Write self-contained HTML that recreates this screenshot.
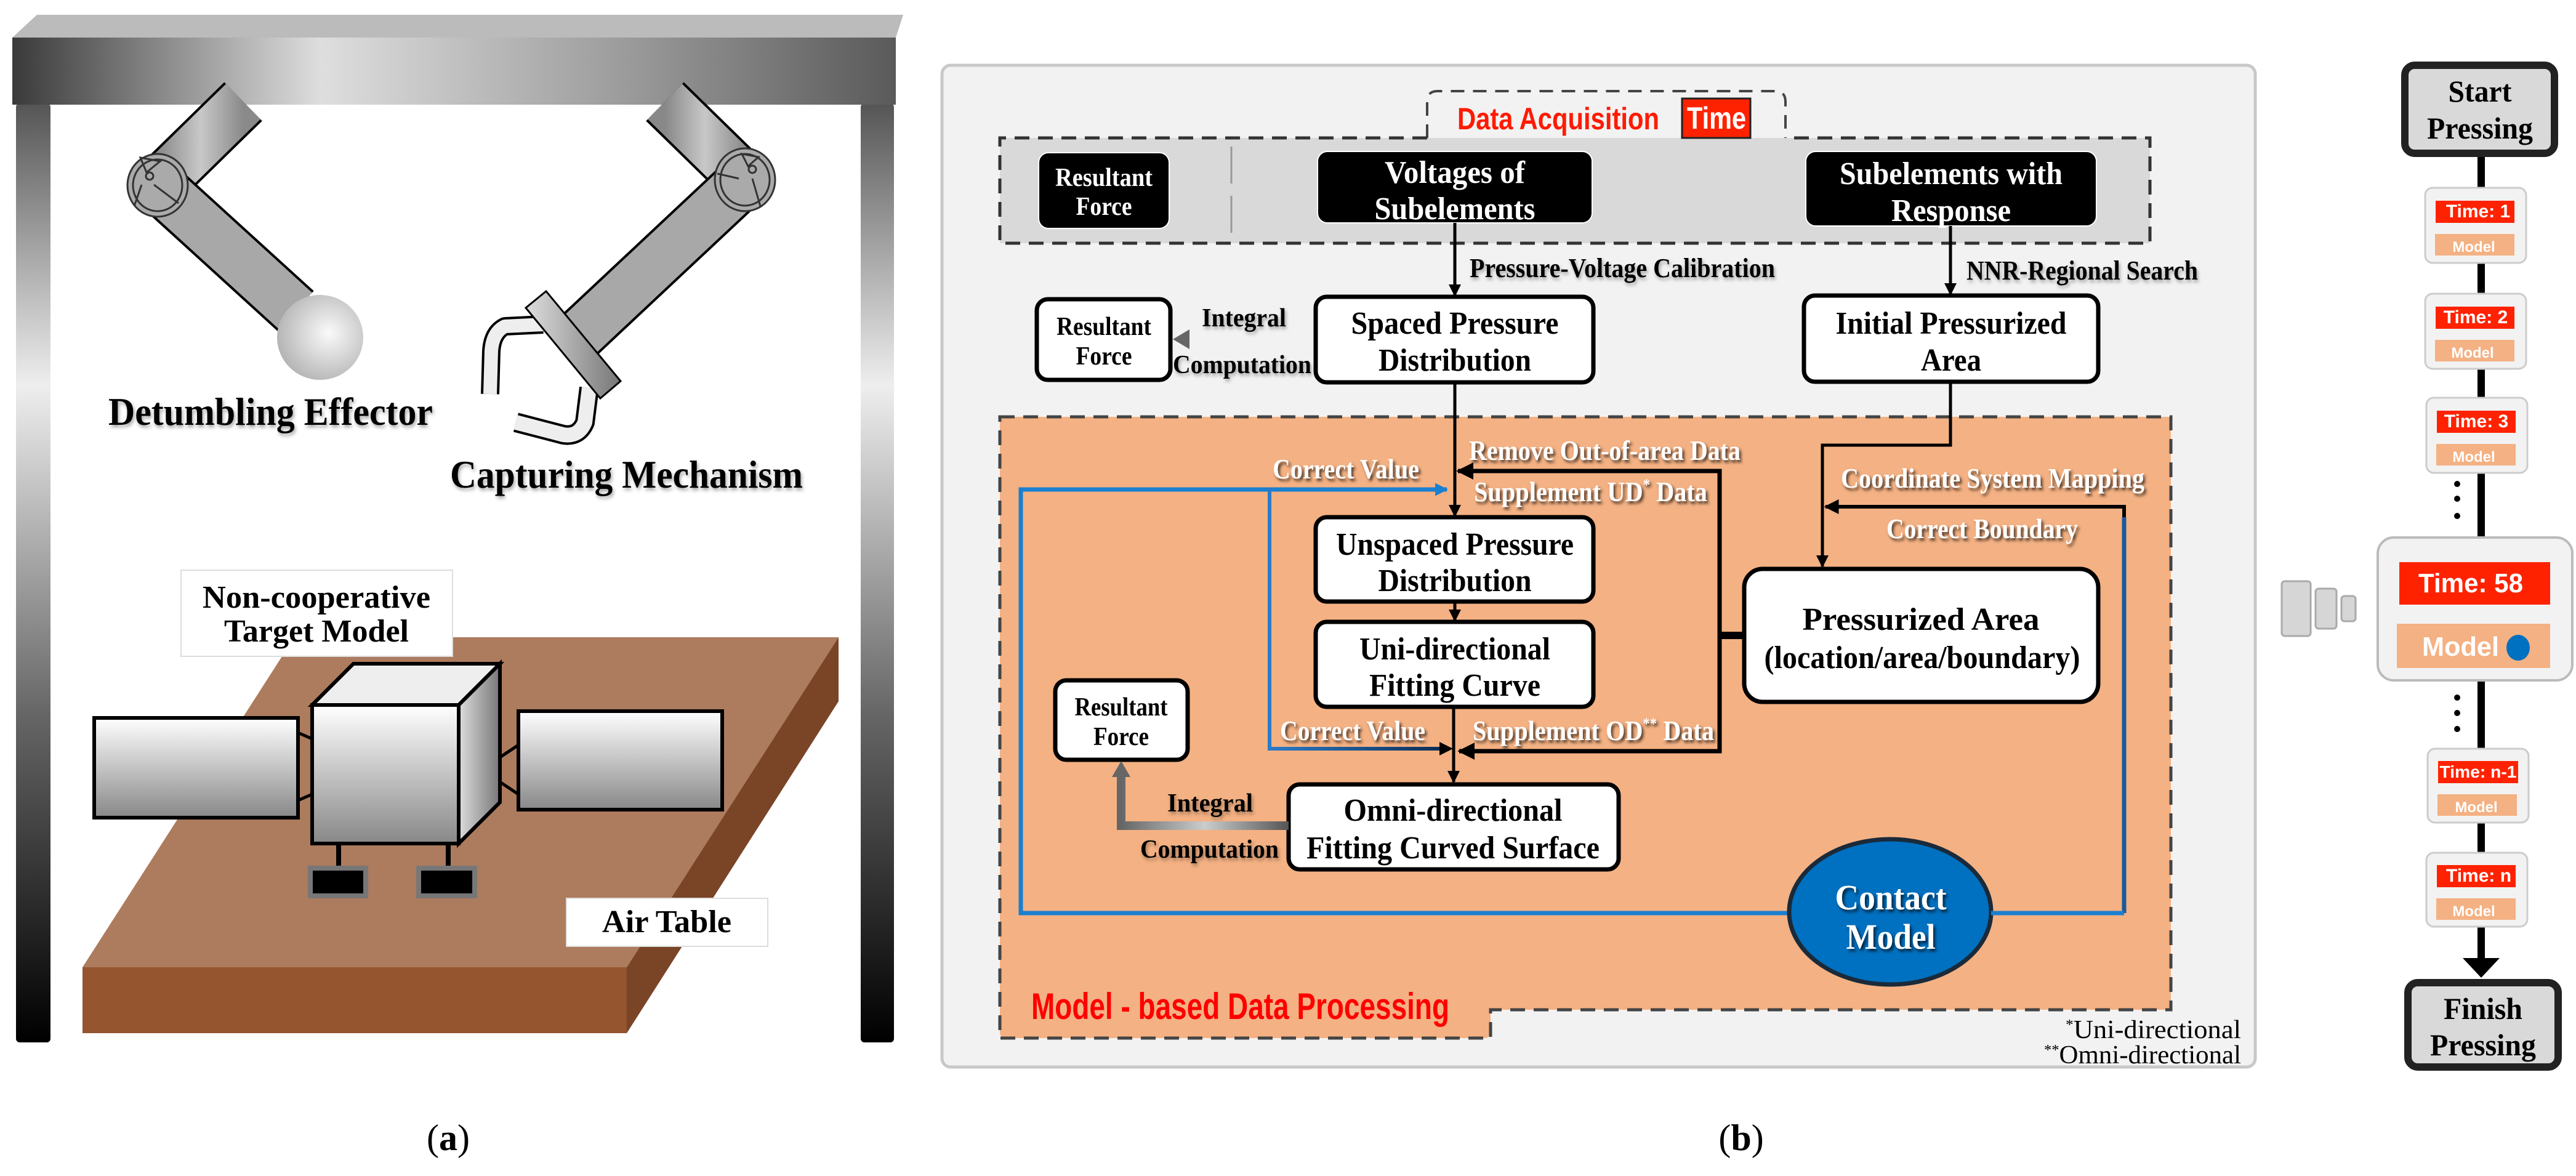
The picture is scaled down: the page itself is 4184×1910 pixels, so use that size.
<!DOCTYPE html>
<html><head><meta charset="utf-8"><style>
html,body{margin:0;padding:0;background:#fff;}
svg{display:block;}
.s{font-family:"Liberation Serif",serif;font-weight:bold;}
.a{font-family:"Liberation Sans",sans-serif;font-weight:bold;}
</style></head><body>
<svg width="4184" height="1910" viewBox="0 0 4184 1910" xmlns="http://www.w3.org/2000/svg">
<defs>
<linearGradient id="beam" x1="0" x2="1" y1="0" y2="0">
<stop offset="0" stop-color="#3a3a3a"/><stop offset="0.35" stop-color="#dedede"/><stop offset="0.7" stop-color="#9a9a9a"/><stop offset="1" stop-color="#5a5a5a"/></linearGradient>
<linearGradient id="leg" x1="0" x2="0" y1="0" y2="1">
<stop offset="0" stop-color="#555"/><stop offset="0.3" stop-color="#eee"/><stop offset="0.65" stop-color="#666"/><stop offset="1" stop-color="#000"/></linearGradient>
<linearGradient id="arm" x1="0" x2="1" y1="0" y2="0">
<stop offset="0" stop-color="#888"/><stop offset="0.5" stop-color="#c8c8c8"/><stop offset="1" stop-color="#8a8a8a"/></linearGradient>
<radialGradient id="ball" cx="0.6" cy="0.45" r="0.7"><stop offset="0" stop-color="#fafafa"/><stop offset="1" stop-color="#aaa"/></radialGradient>
<linearGradient id="pan" x1="0" x2="0" y1="0" y2="1"><stop offset="0" stop-color="#fff"/><stop offset="1" stop-color="#888"/></linearGradient>
<linearGradient id="side" x1="0" x2="1"><stop offset="0" stop-color="#ddd"/><stop offset="1" stop-color="#777"/></linearGradient>
<linearGradient id="garr" x1="0" x2="1"><stop offset="0" stop-color="#666"/><stop offset="0.5" stop-color="#ccc"/><stop offset="1" stop-color="#555"/></linearGradient>
<linearGradient id="blu" x1="0" x2="1"><stop offset="0" stop-color="#2a7bc8"/><stop offset="1" stop-color="#0a2a50"/></linearGradient>
<filter id="sh" x="-10%" y="-30%" width="120%" height="160%"><feDropShadow dx="3" dy="4" stdDeviation="2.5" flood-color="#000" flood-opacity="0.7"/></filter>
<filter id="sh2" x="-10%" y="-30%" width="120%" height="160%"><feDropShadow dx="2" dy="4" stdDeviation="3" flood-color="#000" flood-opacity="0.35"/></filter>
<marker id="ah" viewBox="0 0 10 10" refX="9" refY="5" markerWidth="4" markerHeight="4" orient="auto-start-reverse"><path d="M0,0 L10,5 L0,10 z" fill="#000"/></marker>
<marker id="ahb" viewBox="0 0 10 10" refX="9" refY="5" markerWidth="3" markerHeight="3.5" orient="auto"><path d="M0,0 L10,5 L0,10 z" fill="#1a7fd0"/></marker>
</defs>

<!-- ===== Panel (a) ===== -->
<rect x="26" y="168" width="56" height="1525" rx="6" fill="url(#leg)"/>
<rect x="1398" y="168" width="54" height="1525" rx="6" fill="url(#leg)"/>
<polygon points="20,61 60,24 1467,24 1455,61" fill="#bbb"/>
<rect x="20" y="61" width="1435" height="109" fill="url(#beam)"/>
<line x1="395" y1="165" x2="256" y2="301" stroke="#000" stroke-width="88"/>
<line x1="395" y1="165" x2="256" y2="301" stroke="url(#arm)" stroke-width="80"/>
<line x1="256" y1="301" x2="480" y2="505" stroke="#000" stroke-width="88"/>
<line x1="256" y1="301" x2="480" y2="505" stroke="#a8a8a8" stroke-width="80"/>
<ellipse cx="256" cy="301" rx="49" ry="51" fill="#aaa" stroke="#333" stroke-width="3"/>
<g fill="none" stroke="#333" stroke-width="3"><ellipse cx="256" cy="301" rx="40" ry="42"/><circle cx="243" cy="286" r="6"/><path d="M238,280 L228,256 L260,262 Z M230,300 L218,335 M250,300 L290,330"/></g>
<ellipse cx="520" cy="548" rx="70" ry="69" fill="url(#ball)"/>
<line x1="1080" y1="165" x2="1210" y2="292" stroke="#000" stroke-width="88"/>
<line x1="1080" y1="165" x2="1210" y2="292" stroke="url(#arm)" stroke-width="80"/>
<line x1="1210" y1="292" x2="940" y2="545" stroke="#000" stroke-width="88"/>
<line x1="1210" y1="292" x2="940" y2="545" stroke="#a8a8a8" stroke-width="80"/>
<ellipse cx="1210" cy="292" rx="49" ry="51" fill="#aaa" stroke="#333" stroke-width="3"/>
<g fill="none" stroke="#333" stroke-width="3"><ellipse cx="1210" cy="292" rx="40" ry="42"/><circle cx="1222" cy="275" r="6"/><path d="M1215,270 L1205,250 L1232,255 Z M1200,290 L1165,282 M1222,290 L1235,335"/></g>
<path d="M882,527 L820,530 Q800,540 798,570 L796,640" fill="none" stroke="#000" stroke-width="30" stroke-linejoin="round"/>
<path d="M882,527 L820,530 Q800,540 798,570 L796,640" fill="none" stroke="#eee" stroke-width="22" stroke-linejoin="round"/>
<path d="M957,630 L950,686 Q940,710 915,706 L838,686" fill="none" stroke="#000" stroke-width="32" stroke-linejoin="round"/>
<path d="M957,630 L950,686 Q940,710 915,706 L838,686" fill="none" stroke="#eee" stroke-width="24" stroke-linejoin="round"/>
<polygon points="887,473 1008,619 975,647 854,500" fill="url(#side)" stroke="#000" stroke-width="3"/>
<text class="s" x="176" y="690" font-size="64" textLength="527" lengthAdjust="spacingAndGlyphs" fill="#000" filter="url(#sh2)">Detumbling  Effector</text>
<text class="s" x="731" y="792" font-size="64" textLength="573" lengthAdjust="spacingAndGlyphs" fill="#000" filter="url(#sh2)">Capturing  Mechanism</text>
<polygon points="134,1571 478,1035 1362,1035 1018,1571" fill="#ad7b5e"/>
<polygon points="1018,1571 1362,1035 1362,1139 1018,1678" fill="#7a4427"/>
<rect x="134" y="1571" width="884" height="107" fill="#94552f"/>
<rect x="294" y="926" width="441" height="140" fill="#fff" stroke="#ddd" stroke-width="2"/>
<text class="s" x="514" y="987" font-size="52" text-anchor="middle" textLength="370" lengthAdjust="spacingAndGlyphs">Non-cooperative</text>
<text class="s" x="514" y="1042" font-size="52" text-anchor="middle" textLength="300" lengthAdjust="spacingAndGlyphs">Target Model</text>
<rect x="153" y="1166" width="331" height="162" fill="url(#pan)" stroke="#000" stroke-width="6"/>
<rect x="842" y="1155" width="331" height="160" fill="url(#pan)" stroke="#000" stroke-width="6"/>
<path d="M484,1190 L507,1200 M484,1300 L507,1290 M812,1230 L842,1210 M812,1270 L842,1290 M785,1225 L812,1225 L812,1275 L785,1275" stroke="#000" stroke-width="5" fill="none"/>
<line x1="550" y1="1370" x2="550" y2="1410" stroke="#000" stroke-width="8"/>
<line x1="728" y1="1370" x2="728" y2="1410" stroke="#000" stroke-width="8"/>
<rect x="504" y="1410" width="90" height="45" fill="#000" stroke="#777" stroke-width="8"/>
<rect x="680" y="1410" width="91" height="45" fill="#000" stroke="#777" stroke-width="8"/>
<polygon points="507,1145 574,1078 812,1078 745,1145" fill="#eee" stroke="#000" stroke-width="6"/>
<polygon points="745,1145 812,1078 812,1303 745,1370" fill="url(#side)" stroke="#000" stroke-width="6"/>
<rect x="507" y="1145" width="238" height="225" fill="url(#pan)" stroke="#000" stroke-width="6"/>
<rect x="920" y="1459" width="327" height="78" fill="#fff" stroke="#ddd" stroke-width="2"/>
<text class="s" x="1083" y="1514" font-size="52" text-anchor="middle" textLength="210" lengthAdjust="spacingAndGlyphs">Air Table</text>
<text x="728" y="1868" font-family="Liberation Serif,serif" font-size="60" text-anchor="middle">(<tspan font-weight="bold">a</tspan>)</text>

<!-- ===== Panel (b) ===== -->
<rect x="1530" y="106" width="2133" height="1627" rx="14" fill="#f2f2f2" stroke="#c8c8c8" stroke-width="5"/>
<path d="M2318,224 L2318,165 Q2318,148 2335,148 L2883,148 Q2900,148 2900,165 L2900,224 Z" fill="#f2f2f2"/>
<path d="M2318,224 L2318,165 Q2318,148 2335,148 L2883,148 Q2900,148 2900,165 L2900,224" fill="none" stroke="#444" stroke-width="4" stroke-dasharray="22,14"/>
<path d="M2318,224 L1624,224 L1624,395 L3492,395 L3492,224 Z" fill="#d9d9d9"/>
<rect x="2318" y="224" width="582" height="20" fill="#d9d9d9"/>
<path d="M2318,224 L1624,224 L1624,395 L3492,395 L3492,224 L2900,224" fill="none" stroke="#333" stroke-width="5" stroke-dasharray="24,14"/>
<text class="a" x="2367" y="210" font-size="50" fill="#ff1a00" textLength="328" lengthAdjust="spacingAndGlyphs">Data Acquisition</text>
<rect x="2732" y="160" width="111" height="64" fill="#ff2200" stroke="#222" stroke-width="3"/>
<text class="a" x="2788" y="209" font-size="50" fill="#fff" text-anchor="middle" textLength="96" lengthAdjust="spacingAndGlyphs">Time</text>
<line x1="2000" y1="238" x2="2000" y2="384" stroke="#999" stroke-width="3" stroke-dasharray="60,20"/>
<rect x="1687" y="248" width="212" height="123" rx="16" fill="#000" stroke="#fff" stroke-width="2"/>
<text class="s" x="1793" y="302" font-size="42" fill="#fff" text-anchor="middle" textLength="158" lengthAdjust="spacingAndGlyphs">Resultant</text>
<text class="s" x="1793" y="349" font-size="42" fill="#fff" text-anchor="middle" textLength="91" lengthAdjust="spacingAndGlyphs">Force</text>
<rect x="2140" y="246" width="446" height="116" rx="16" fill="#000" stroke="#fff" stroke-width="2"/>
<text class="s" x="2363" y="297" font-size="52" fill="#fff" text-anchor="middle" textLength="228" lengthAdjust="spacingAndGlyphs">Voltages of</text>
<text class="s" x="2363" y="356" font-size="52" fill="#fff" text-anchor="middle" textLength="261" lengthAdjust="spacingAndGlyphs">Subelements</text>
<rect x="2933" y="246" width="472" height="121" rx="16" fill="#000" stroke="#fff" stroke-width="2"/>
<text class="s" x="3169" y="299" font-size="52" fill="#fff" text-anchor="middle" textLength="362" lengthAdjust="spacingAndGlyphs">Subelements with</text>
<text class="s" x="3169" y="359" font-size="52" fill="#fff" text-anchor="middle" textLength="194" lengthAdjust="spacingAndGlyphs">Response</text>
<line x1="2363" y1="362" x2="2363" y2="480" stroke="#000" stroke-width="5" marker-end="url(#ah)"/>
<line x1="3168" y1="367" x2="3168" y2="478" stroke="#000" stroke-width="5" marker-end="url(#ah)"/>
<text class="s" x="2387" y="450" font-size="44" textLength="496" lengthAdjust="spacingAndGlyphs" filter="url(#sh2)">Pressure-Voltage Calibration</text>
<text class="s" x="3194" y="454" font-size="44" textLength="376" lengthAdjust="spacingAndGlyphs" filter="url(#sh2)">NNR-Regional Search</text>
<path d="M1624,677 L3526,677 L3526,1640 L2421,1640 L2421,1676 Q2421,1686 2411,1686 L1634,1686 Q1624,1686 1624,1676 Z" fill="#f4b183"/>
<path d="M1624,677 L3526,677 L3526,1640 L2421,1640 L2421,1686 L1624,1686 Z" fill="none" stroke="#444" stroke-width="5" stroke-dasharray="24,14"/>
<rect x="2137" y="482" width="451" height="139" rx="18" fill="#fff" stroke="#000" stroke-width="7"/>
<text class="s" x="2363" y="542" font-size="52" text-anchor="middle" textLength="337" lengthAdjust="spacingAndGlyphs">Spaced Pressure</text>
<text class="s" x="2363" y="602" font-size="52" text-anchor="middle" textLength="248" lengthAdjust="spacingAndGlyphs">Distribution</text>
<rect x="2930" y="480" width="478" height="140" rx="18" fill="#fff" stroke="#000" stroke-width="7"/>
<text class="s" x="3169" y="542" font-size="52" text-anchor="middle" textLength="375" lengthAdjust="spacingAndGlyphs">Initial Pressurized</text>
<text class="s" x="3169" y="602" font-size="52" text-anchor="middle" textLength="98" lengthAdjust="spacingAndGlyphs">Area</text>
<rect x="1684" y="486" width="217" height="131" rx="18" fill="#fff" stroke="#000" stroke-width="7"/>
<text class="s" x="1793" y="544" font-size="42" text-anchor="middle" textLength="154" lengthAdjust="spacingAndGlyphs">Resultant</text>
<text class="s" x="1793" y="592" font-size="42" text-anchor="middle" textLength="91" lengthAdjust="spacingAndGlyphs">Force</text>
<line x1="2137" y1="551" x2="1925" y2="551" stroke="url(#garr)" stroke-width="14"/>
<path d="M1905,551 L1932,535 L1932,567 Z" fill="#666"/>
<text class="s" x="1952" y="530" font-size="42" textLength="137" lengthAdjust="spacingAndGlyphs" filter="url(#sh2)">Integral</text>
<text class="s" x="1905" y="606" font-size="42" textLength="225" lengthAdjust="spacingAndGlyphs" filter="url(#sh2)">Computation</text>
<line x1="2363" y1="621" x2="2363" y2="838" stroke="#000" stroke-width="5" marker-end="url(#ah)"/>
<polyline points="3168,620 3168,723 2960,723 2960,920" fill="none" stroke="#000" stroke-width="5" marker-end="url(#ah)"/>
<polyline points="3450,1483 3450,823 2965,823" fill="none" stroke="#000" stroke-width="6" marker-end="url(#ah)"/>
<line x1="3450" y1="840" x2="3450" y2="1483" stroke="#1a5a9a" stroke-width="7"/>
<polyline points="2793,1032 2793,765 2368,765" fill="none" stroke="#000" stroke-width="7" marker-end="url(#ah)"/>
<polyline points="2793,1032 2793,1220 2370,1220" fill="none" stroke="#000" stroke-width="7" marker-end="url(#ah)"/>
<line x1="2790" y1="1032" x2="2835" y2="1032" stroke="#000" stroke-width="12"/>
<polyline points="3000,1483 1658,1483 1658,795 2350,795" fill="none" stroke="#1a7fd0" stroke-width="7" marker-end="url(#ahb)"/>
<polyline points="2062,792 2062,1216 2352,1216" fill="none" stroke="url(#blu)" stroke-width="6"/>
<path d="M2360,1216 L2338,1205 L2338,1227 Z" fill="#000"/>
<line x1="2363" y1="977" x2="2363" y2="1008" stroke="#000" stroke-width="5" marker-end="url(#ah)"/>
<line x1="2361" y1="1148" x2="2361" y2="1270" stroke="#000" stroke-width="5" marker-end="url(#ah)"/>
<g font-family="Liberation Serif,serif" font-weight="bold" font-size="46" fill="#fff" filter="url(#sh)">
<text x="2386" y="747" textLength="441" lengthAdjust="spacingAndGlyphs">Remove Out-of-area Data</text>
<text x="2394" y="814" textLength="379" lengthAdjust="spacingAndGlyphs">Supplement UD<tspan font-size="26" dy="-18">*</tspan><tspan dy="18"> Data</tspan></text>
<text x="2067" y="777" textLength="238" lengthAdjust="spacingAndGlyphs">Correct Value</text>
<text x="2079" y="1202" textLength="236" lengthAdjust="spacingAndGlyphs">Correct Value</text>
<text x="2392" y="1202" textLength="392" lengthAdjust="spacingAndGlyphs">Supplement OD<tspan font-size="26" dy="-18">**</tspan><tspan dy="18"> Data</tspan></text>
<text x="2990" y="792" textLength="493" lengthAdjust="spacingAndGlyphs">Coordinate System Mapping</text>
<text x="3064" y="874" textLength="311" lengthAdjust="spacingAndGlyphs">Correct Boundary</text>
</g>
<rect x="2137" y="840" width="451" height="137" rx="18" fill="#fff" stroke="#000" stroke-width="7"/>
<text class="s" x="2363" y="901" font-size="52" text-anchor="middle" textLength="386" lengthAdjust="spacingAndGlyphs">Unspaced Pressure</text>
<text class="s" x="2363" y="960" font-size="52" text-anchor="middle" textLength="249" lengthAdjust="spacingAndGlyphs">Distribution</text>
<rect x="2137" y="1010" width="451" height="138" rx="18" fill="#fff" stroke="#000" stroke-width="7"/>
<text class="s" x="2363" y="1071" font-size="52" text-anchor="middle" textLength="310" lengthAdjust="spacingAndGlyphs">Uni-directional</text>
<text class="s" x="2363" y="1130" font-size="52" text-anchor="middle" textLength="278" lengthAdjust="spacingAndGlyphs">Fitting Curve</text>
<rect x="2833" y="924" width="575" height="216" rx="30" fill="#fff" stroke="#000" stroke-width="7"/>
<text class="s" x="3120" y="1023" font-size="52" text-anchor="middle" textLength="385" lengthAdjust="spacingAndGlyphs">Pressurized Area</text>
<text class="s" x="3122" y="1085" font-size="52" text-anchor="middle" textLength="513" lengthAdjust="spacingAndGlyphs">(location/area/boundary)</text>
<rect x="2093" y="1274" width="536" height="138" rx="18" fill="#fff" stroke="#000" stroke-width="7"/>
<text class="s" x="2360" y="1333" font-size="52" text-anchor="middle" textLength="355" lengthAdjust="spacingAndGlyphs">Omni-directional</text>
<text class="s" x="2360" y="1394" font-size="52" text-anchor="middle" textLength="476" lengthAdjust="spacingAndGlyphs">Fitting Curved Surface</text>
<rect x="1714" y="1105" width="215" height="129" rx="18" fill="#fff" stroke="#000" stroke-width="7"/>
<text class="s" x="1821" y="1162" font-size="42" text-anchor="middle" textLength="151" lengthAdjust="spacingAndGlyphs">Resultant</text>
<text class="s" x="1821" y="1210" font-size="42" text-anchor="middle" textLength="90" lengthAdjust="spacingAndGlyphs">Force</text>
<polyline points="2093,1341 1821,1341 1821,1258" fill="none" stroke="url(#garr)" stroke-width="14"/>
<path d="M1821,1236 L1806,1262 L1836,1262 Z" fill="#666"/>
<text class="s" x="1896" y="1318" font-size="42" textLength="139" lengthAdjust="spacingAndGlyphs" filter="url(#sh2)">Integral</text>
<text class="s" x="1852" y="1393" font-size="42" textLength="225" lengthAdjust="spacingAndGlyphs" filter="url(#sh2)">Computation</text>
<ellipse cx="3070" cy="1481" rx="164" ry="118" fill="#0070c0" stroke="#1a2a3a" stroke-width="7"/>
<text class="s" x="3071" y="1477" font-size="58" fill="#fff" text-anchor="middle" textLength="181" lengthAdjust="spacingAndGlyphs" filter="url(#sh)">Contact</text>
<text class="s" x="3071" y="1541" font-size="58" fill="#fff" text-anchor="middle" textLength="145" lengthAdjust="spacingAndGlyphs" filter="url(#sh)">Model</text>
<line x1="3234" y1="1483" x2="3450" y2="1483" stroke="#1a7fd0" stroke-width="7"/>
<text class="a" x="1675" y="1655" font-size="60" fill="#ff0000" textLength="679" lengthAdjust="spacingAndGlyphs">Model - based Data Processing</text>
<text x="3640" y="1686" font-family="Liberation Serif,serif" font-size="42" text-anchor="end" textLength="285" lengthAdjust="spacingAndGlyphs"><tspan font-size="24" dy="-14">*</tspan><tspan dy="14">Uni-directional</tspan></text>
<text x="3640" y="1727" font-family="Liberation Serif,serif" font-size="42" text-anchor="end" textLength="320" lengthAdjust="spacingAndGlyphs"><tspan font-size="24" dy="-14">**</tspan><tspan dy="14">Omni-directional</tspan></text>
<text x="2828" y="1868" font-family="Liberation Serif,serif" font-size="60" text-anchor="middle">(<tspan font-weight="bold">b</tspan>)</text>

<!-- ===== Right timeline ===== -->
<line x1="4030" y1="250" x2="4030" y2="1560" stroke="#000" stroke-width="12"/>
<path d="M4030,1588 L4000,1556 L4060,1556 Z" fill="#000"/>
<rect x="3906" y="106" width="243" height="143" rx="16" fill="#d9d9d9" stroke="#222" stroke-width="12"/>
<text class="s" x="4028" y="165" font-size="50" text-anchor="middle" textLength="103" lengthAdjust="spacingAndGlyphs">Start</text>
<text class="s" x="4028" y="225" font-size="50" text-anchor="middle" textLength="172" lengthAdjust="spacingAndGlyphs">Pressing</text>
<rect x="3911" y="1596" width="244" height="137" rx="16" fill="#d9d9d9" stroke="#222" stroke-width="12"/>
<text class="s" x="4033" y="1655" font-size="50" text-anchor="middle" textLength="128" lengthAdjust="spacingAndGlyphs">Finish</text>
<text class="s" x="4033" y="1714" font-size="50" text-anchor="middle" textLength="172" lengthAdjust="spacingAndGlyphs">Pressing</text>
<g>
<rect x="3939" y="305" width="164" height="122" rx="12" fill="#f2f2f2" stroke="#ccc" stroke-width="3"/>
<rect x="3956" y="326" width="128" height="36" fill="#ff2200"/><rect x="3955" y="380" width="129" height="35" fill="#f4b183"/>
<text class="a" x="4025" y="353" font-size="30" fill="#fff" text-anchor="middle">Time: 1</text>
<text class="a" x="4018" y="409" font-size="24" fill="#fff" text-anchor="middle">Model</text>
</g>
<g>
<rect x="3939" y="477" width="164" height="122" rx="12" fill="#f2f2f2" stroke="#ccc" stroke-width="3"/>
<rect x="3956" y="498" width="128" height="36" fill="#ff2200"/><rect x="3955" y="552" width="129" height="35" fill="#f4b183"/>
<text class="a" x="4021" y="525" font-size="30" fill="#fff" text-anchor="middle">Time: 2</text>
<text class="a" x="4016" y="581" font-size="24" fill="#fff" text-anchor="middle">Model</text>
</g>
<g>
<rect x="3941" y="646" width="164" height="122" rx="12" fill="#f2f2f2" stroke="#ccc" stroke-width="3"/>
<rect x="3958" y="667" width="128" height="36" fill="#ff2200"/><rect x="3957" y="721" width="129" height="35" fill="#f4b183"/>
<text class="a" x="4022" y="694" font-size="30" fill="#fff" text-anchor="middle">Time: 3</text>
<text class="a" x="4018" y="750" font-size="24" fill="#fff" text-anchor="middle">Model</text>
</g>
<g>
<rect x="3943" y="1216" width="164" height="120" rx="12" fill="#f2f2f2" stroke="#ccc" stroke-width="3"/>
<rect x="3960" y="1236" width="130" height="36" fill="#ff2200"/><rect x="3959" y="1290" width="129" height="35" fill="#f4b183"/>
<text class="a" x="4025" y="1263" font-size="28" fill="#fff" text-anchor="middle" textLength="125" lengthAdjust="spacingAndGlyphs">Time: n-1</text>
<text class="a" x="4022" y="1319" font-size="24" fill="#fff" text-anchor="middle">Model</text>
</g>
<g>
<rect x="3941" y="1385" width="164" height="120" rx="12" fill="#f2f2f2" stroke="#ccc" stroke-width="3"/>
<rect x="3958" y="1405" width="128" height="36" fill="#ff2200"/><rect x="3957" y="1459" width="129" height="35" fill="#f4b183"/>
<text class="a" x="4026" y="1432" font-size="30" fill="#fff" text-anchor="middle">Time: n</text>
<text class="a" x="4018" y="1488" font-size="24" fill="#fff" text-anchor="middle">Model</text>
</g>
<rect x="3862" y="873" width="316" height="232" rx="26" fill="#f2f2f2" stroke="#bbb" stroke-width="4"/>
<rect x="3897" y="913" width="245" height="69" fill="#ff2200"/>
<rect x="3893" y="1013" width="249" height="72" fill="#f4b183"/>
<text class="a" x="4013" y="962" font-size="44" fill="#fff" text-anchor="middle" textLength="170" lengthAdjust="spacingAndGlyphs">Time: 58</text>
<text class="a" x="3934" y="1065" font-size="44" fill="#fff" textLength="125" lengthAdjust="spacingAndGlyphs">Model</text>
<ellipse cx="4090" cy="1052" rx="19" ry="21" fill="#0070c0"/>
<g fill="#000"><circle cx="3991" cy="786" r="5"/><circle cx="3991" cy="810" r="5"/><circle cx="3991" cy="838" r="5"/>
<circle cx="3991" cy="1133" r="5"/><circle cx="3991" cy="1158" r="5"/><circle cx="3991" cy="1184" r="5"/></g>
<rect x="3706" y="944" width="47" height="89" rx="5" fill="#d6d6d6" stroke="#aaa" stroke-width="3"/>
<rect x="3761" y="956" width="34" height="65" rx="5" fill="#d6d6d6" stroke="#aaa" stroke-width="3"/>
<rect x="3803" y="968" width="23" height="41" rx="5" fill="#d6d6d6" stroke="#aaa" stroke-width="3"/>
</svg>
</body></html>
